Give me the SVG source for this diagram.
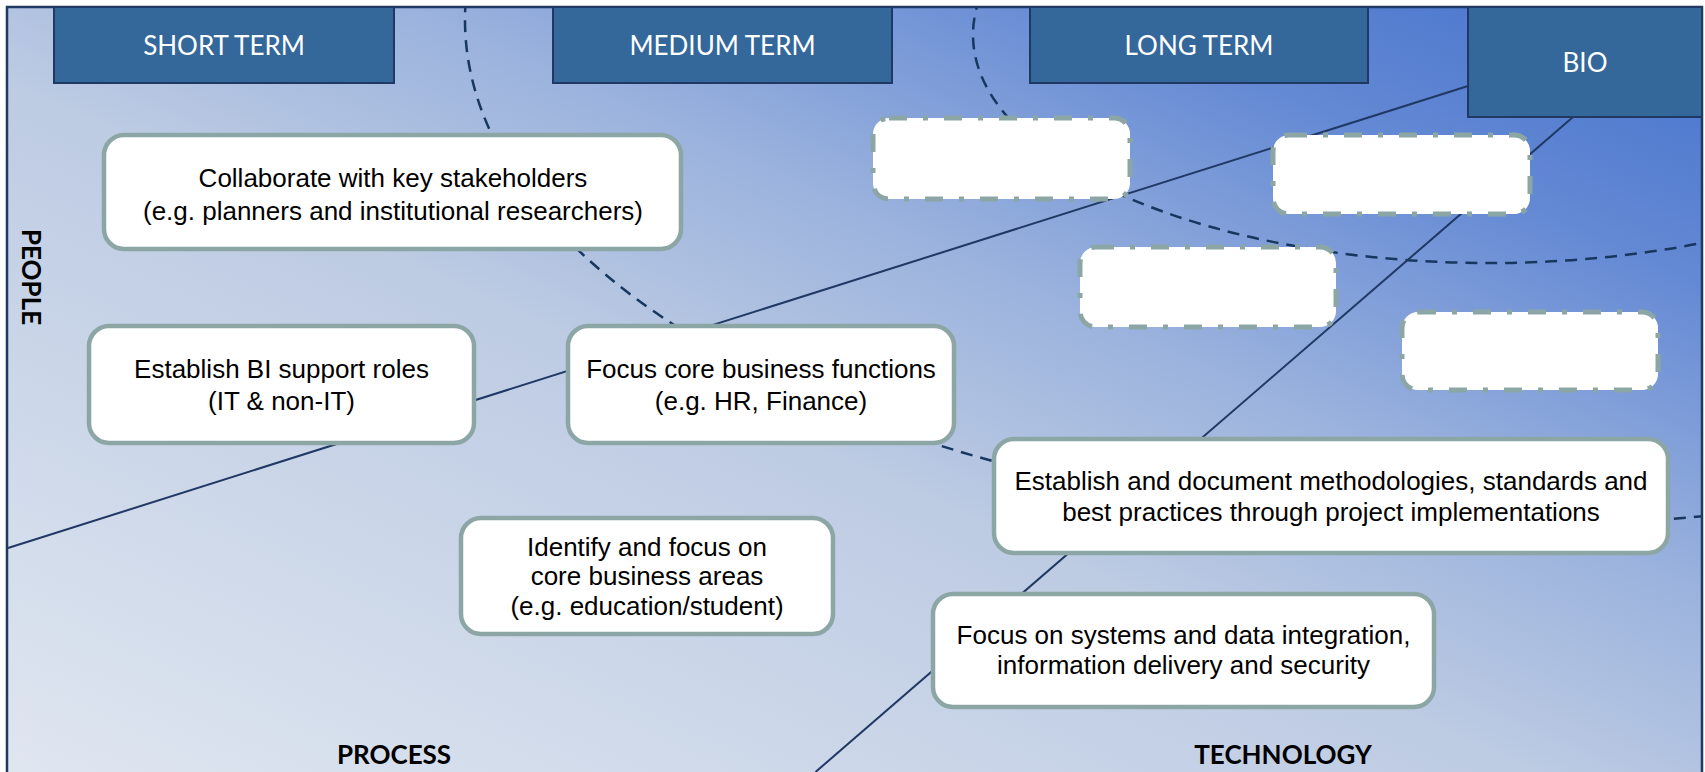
<svg xmlns="http://www.w3.org/2000/svg" width="1705" height="772" viewBox="0 0 1705 772">
  <defs>
    <linearGradient id="bg" x1="0" y1="1" x2="1" y2="0">
      <stop offset="0" stop-color="#DFE6F0"/>
      <stop offset="0.45" stop-color="#BDCBE3"/>
      <stop offset="0.62" stop-color="#9AB2DD"/>
      <stop offset="0.82" stop-color="#6489D4"/>
      <stop offset="1" stop-color="#4472CC"/>
    </linearGradient>
    <clipPath id="frame">
      <rect x="7" y="7" width="1695" height="765"/>
    </clipPath>
    <style>
      .hdr { fill: #34679A; stroke: #1F3864; stroke-width: 2; }
      .hdrtxt { font-family: Lato, "Open Sans", sans-serif; font-size: 26px; fill: #FFFFFF; text-anchor: middle; }
      .axis { font-family: Lato, "Open Sans", sans-serif; font-size: 26px; font-weight: bold; fill: #000000; text-anchor: middle; }
      .node { fill: #FFFFFF; stroke: #8CA6A5; stroke-width: 4.5; }
      .empty { fill: #FFFFFF; stroke: #8CA6A5; stroke-width: 5; stroke-dasharray: 18 16 5 16; }
      .ntxt { font-family: "Liberation Sans", Arial, sans-serif; font-size: 26px; fill: #000000; text-anchor: middle; }
      .sep { fill: none; stroke: #1F3864; stroke-width: 2; }
      .arc { fill: none; stroke: #17375E; stroke-width: 2.5; stroke-dasharray: 12 8; }
    </style>
  </defs>

  <rect x="0" y="0" width="1705" height="772" fill="#FFFFFF"/>
  <rect x="7" y="7" width="1695" height="765" fill="url(#bg)"/>

  <g id="connectors">
    <g clip-path="url(#frame)">
      <ellipse class="arc" cx="1500" cy="20" rx="1035" ry="506"/>
      <ellipse class="arc" cx="1490" cy="35" rx="517" ry="228"/>
    </g>
    <line class="sep" x1="8" y1="548" x2="1468" y2="86"/>
    <line class="sep" x1="815.5" y1="772" x2="1573" y2="117"/>
  </g>

  <path d="M7,772 V7 H1702 V772" fill="none" stroke="#1F3864" stroke-width="2.5"/>

  <g id="short-term">
    <rect class="hdr" x="54" y="7" width="340" height="76"/>
    <text class="hdrtxt" x="224" y="55">SHORT TERM</text>
  </g>
  <g id="medium-term">
    <rect class="hdr" x="553" y="7" width="339" height="76"/>
    <text class="hdrtxt" x="722.5" y="55">MEDIUM TERM</text>
  </g>
  <g id="long-term">
    <rect class="hdr" x="1030" y="7" width="338" height="76"/>
    <text class="hdrtxt" x="1199" y="55">LONG TERM</text>
  </g>
  <g id="bio">
    <rect class="hdr" x="1468" y="7" width="234" height="110"/>
    <text class="hdrtxt" x="1585" y="72">BIO</text>
  </g>

  <g id="label-people">
    <text class="axis" transform="translate(22,277) rotate(90)">PEOPLE</text>
  </g>
  <g id="label-process">
    <text class="axis" x="394" y="764">PROCESS</text>
  </g>
  <g id="label-technology">
    <text class="axis" x="1283" y="764">TECHNOLOGY</text>
  </g>

  <g id="collaborate">
    <rect class="node" x="104" y="135" width="577" height="114" rx="20"/>
    <text class="ntxt" x="393" y="187">Collaborate with key stakeholders</text>
    <text class="ntxt" x="393" y="220">(e.g. planners and institutional researchers)</text>
  </g>
  <g id="bi-support-roles">
    <rect class="node" x="89" y="326" width="385" height="117" rx="20"/>
    <text class="ntxt" x="281.5" y="378">Establish BI support roles</text>
    <text class="ntxt" x="281.5" y="410">(IT &amp; non-IT)</text>
  </g>
  <g id="core-functions">
    <rect class="node" x="568" y="326" width="386" height="117" rx="20"/>
    <text class="ntxt" x="761" y="378">Focus core business functions</text>
    <text class="ntxt" x="761" y="410">(e.g. HR, Finance)</text>
  </g>
  <g id="core-areas">
    <rect class="node" x="461" y="518" width="372" height="116" rx="20"/>
    <text class="ntxt" x="647" y="556">Identify and focus on</text>
    <text class="ntxt" x="647" y="585">core business areas</text>
    <text class="ntxt" x="647" y="615">(e.g. education/student)</text>
  </g>
  <g id="methodologies">
    <rect class="node" x="994" y="439" width="674" height="114" rx="20"/>
    <text class="ntxt" x="1331" y="490">Establish and document methodologies, standards and</text>
    <text class="ntxt" x="1331" y="521">best practices through project implementations</text>
  </g>
  <g id="systems-integration">
    <rect class="node" x="933" y="594" width="501" height="113" rx="20"/>
    <text class="ntxt" x="1183.5" y="644">Focus on systems and data integration,</text>
    <text class="ntxt" x="1183.5" y="674">information delivery and security</text>
  </g>

  <g id="placeholder-1">
    <rect class="empty" x="873" y="118" width="257" height="81" rx="16"/>
  </g>
  <g id="placeholder-2">
    <rect class="empty" x="1080" y="247" width="256" height="80" rx="16"/>
  </g>
  <g id="placeholder-3">
    <rect class="empty" x="1273" y="135" width="257" height="79" rx="16"/>
  </g>
  <g id="placeholder-4">
    <rect class="empty" x="1402" y="312" width="256" height="78" rx="16"/>
  </g>
</svg>
